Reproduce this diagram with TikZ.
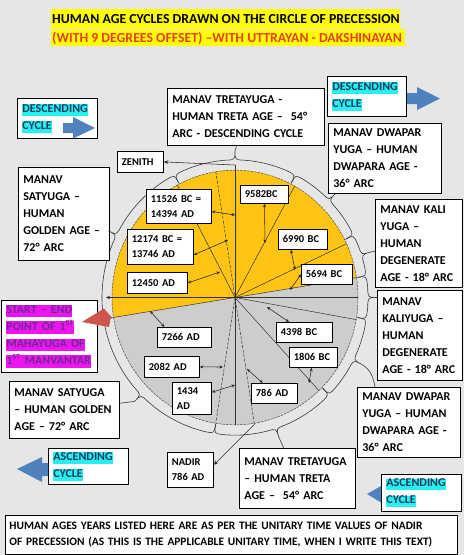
\documentclass[tikz,border=0pt]{standalone}
\usepackage{fontspec}
\setmainfont{Carlito}
\usetikzlibrary{arrows.meta}
\definecolor{bgc}{RGB}{230,230,230}
\definecolor{gold}{RGB}{255,196,20}
\definecolor{lowg}{RGB}{205,205,205}
\definecolor{hly}{RGB}{255,255,0}
\definecolor{titred}{RGB}{232,62,30}
\definecolor{hlcy}{RGB}{40,240,240}
\definecolor{cytext}{RGB}{25,60,95}
\definecolor{blarrow}{RGB}{79,129,189}
\definecolor{magh}{RGB}{240,20,240}
\definecolor{purt}{RGB}{112,40,150}
\definecolor{redarr}{RGB}{208,84,78}
\definecolor{brcol}{RGB}{55,55,70}
\setlength{\fboxsep}{0pt}
\newcommand{\hlc}[1]{\colorbox{hlcy}{\rule[-3.5pt]{0pt}{11.5pt}\textcolor{cytext}{#1}}}
\newcommand{\hlm}[1]{\colorbox{magh}{\rule[-3.5pt]{0pt}{11.5pt}#1}}
\newcommand{\ybrace}[3]{%
  \pgfmathsetmacro{\ybm}{(#1+#2)/2}%
  \pgfmathsetmacro{\ybA}{#1-4}%
  \pgfmathsetmacro{\ybB}{#2+4}%
  \pgfmathsetmacro{\ybMa}{\ybm+4}%
  \pgfmathsetmacro{\ybMb}{\ybm-4}%
  \draw[brc] (#1:124) .. controls (#1:133) .. (\ybA:133)
    arc[start angle=\ybA, end angle=\ybMa, radius=133]
    .. controls (\ybm:133) .. (\ybm:142) coordinate (#3)
    .. controls (\ybm:133) .. (\ybMb:133)
    arc[start angle=\ybMb, end angle=\ybB, radius=133]
    .. controls (#2:133) .. (#2:124);
}
\begin{document}
\begin{tikzpicture}[x=1pt,y=1pt,
  box/.style={draw=black, line width=0.8pt, fill=white, anchor=north west, align=left, inner xsep=5pt, inner ysep=0pt, font=\bfseries\fontsize{12}{17}\selectfont},
  dbox/.style={box, inner xsep=4.5pt, font=\bfseries\fontsize{10.5}{15}\selectfont},
  brc/.style={draw=brcol, line width=0.6pt},
  rad/.style={draw=black!80, line width=0.5pt},
  raddash/.style={rad, dash pattern=on 3pt off 1.5pt},
  darr/.style={{Stealth[length=3.5pt,width=3pt]}-{Stealth[length=3.5pt,width=3pt]}, line width=0.55pt, black!85},
  onearr/.style={-{Stealth[length=4.5pt,width=3.5pt]}, line width=0.55pt, black!85},
]
\useasboundingbox (0,0) rectangle (464,-555);
\fill[bgc] (0,0) rectangle (464,-555);
% title
\fill[hly] (50.5,-8.5) rectangle (399.5,-27.8);
\fill[hly] (50.5,-28.8) rectangle (405,-46);
\node[anchor=base west, inner sep=0pt, font=\bfseries\fontsize{13.8}{16}\selectfont] (t1) at (52,-23.3) {HUMAN AGE CYCLES DRAWN ON THE CIRCLE OF PRECESSION};
\node[anchor=base west, inner sep=0pt, text=titred, font=\bfseries\fontsize{13.8}{16}\selectfont] (t2) at (52,-42.3) {(WITH 9 DEGREES OFFSET) –WITH UTTRAYAN - DAKSHINAYAN};

% circle
\begin{scope}[shift={(235,-297.5)}, yscale=1.035]
  \fill[lowg] (0,0) -- (9:123) arc[start angle=9, end angle=-171, radius=123] -- cycle;
  \fill[gold] (0,0) -- (9:123) arc[start angle=9, end angle=189, radius=123] -- cycle;
  \draw[draw=black!70, line width=0.5pt, dash pattern=on 2.5pt off 1pt] (0,0) circle[radius=123];
  \draw[rad] (9:123) -- (189:123);
  \draw[rad, {Stealth[length=4pt,width=3.5pt]}-] (180:129) -- (0:123);
  \draw[rad] (90:128) coordinate (ztop) -- (270:123);
  \draw[raddash] (99:123) -- (-81:124) coordinate (nbot);
  \draw[rad] (0,0) -- (118:123);
  \draw[rad] (0,0) -- (61:123);
  \draw[rad] (0,0) -- (25:123);
  \draw[rad] (0,0) -- (-10:123);
  \draw[rad] (0,0) -- (-47:123);
  \draw[raddash] (0,0) -- (-99:123);
  % braces
  \ybrace{189}{117}{cSatU}
  \ybrace{117}{63}{cTreU}
  \ybrace{63}{27}{cDwaU}
  \ybrace{27}{9}{cKalU}
  \ybrace{9}{-9}{cKalL}
  \ybrace{-9}{-45}{cDwaL}
  \ybrace{-45}{-99}{cTreL}
  \ybrace{-99}{-171}{cSatL}
\end{scope}

% big boxes
\node[box, text width=70pt, minimum height=40pt] (descL) at (17,-98) {\hlc{DESCENDING}\\\hlc{CYCLE}};
\node[box, text width=69pt, minimum height=40pt] (descR) at (327,-76) {\hlc{DESCENDING}\\\hlc{CYCLE}};
\node[box, text width=147pt, minimum height=57pt] (tretaTop) at (167,-88) {MANAV TRETAYUGA -\\HUMAN TRETA AGE –\ \ 54°\\ARC - DESCENDING CYCLE};
\node[box, text width=103pt, minimum height=70pt] (dwapTop) at (328,-123) {MANAV DWAPAR\\YUGA – HUMAN\\DWAPARA AGE -\\36° ARC};
\node[box, text width=77pt, minimum height=88pt] (kaliTop) at (375,-199) {MANAV KALI\\YUGA –\\HUMAN\\DEGENERATE\\AGE - 18° ARC};
\node[box, text width=75pt, minimum height=90pt] (kaliLow) at (377,-290) {MANAV\\KALIYUGA –\\HUMAN\\DEGENERATE\\AGE - 18° ARC};
\node[box, text width=93pt, minimum height=70pt] (dwapLow) at (357,-387) {MANAV DWAPAR\\YUGA – HUMAN\\DWAPARA AGE -\\36° ARC};
\node[box, text width=106pt, minimum height=60pt] (tretaLow) at (239,-448) {MANAV TRETAYUGA\\– HUMAN TRETA\\AGE –\ \ 54° ARC};
\node[box, text width=70pt, minimum height=37pt] (ascR) at (381,-474) {\hlc{ASCENDING}\\\hlc{CYCLE}};
\node[box, text width=70pt, minimum height=36pt] (ascL) at (48,-448) {\hlc{ASCENDING}\\\hlc{CYCLE}};
\node[box, text width=100pt, minimum height=57pt] (satLow) at (9,-381) {MANAV SATYUGA\\– HUMAN GOLDEN\\AGE – 72° ARC};
\node[box, text width=81pt, minimum height=93pt] (satUp) at (18,-167) {MANAV\\SATYUGA –\\HUMAN\\GOLDEN AGE –\\72° ARC};
\node[box, text width=86pt, minimum height=72pt, text=purt] (start) at (1,-300) {\hlm{START – END}\\\hlm{POINT OF 1\textsuperscript{ST}}\\\hlm{MAHAYUGA OF}\\\hlm{1\textsuperscript{ST} MANVANTAR}};
\node[box, inner xsep=4pt, text width=444pt, minimum height=39pt, font=\bfseries\fontsize{11.4}{16}\selectfont] (note) at (5,-515) {HUMAN AGES YEARS LISTED HERE ARE AS PER THE UNITARY TIME VALUES OF NADIR\\OF PRECESSION (AS THIS IS THE APPLICABLE UNITARY TIME, WHEN I WRITE THIS TEXT)};

% date boxes
\node[dbox, text width=37pt, minimum height=21pt] (zenith) at (117,-151) {ZENITH};
\node[dbox, text width=56pt, minimum height=34pt] (d11526) at (146,-189) {11526 BC =\\14394 AD};
\node[dbox, text width=39pt, minimum height=18pt] (d9582) at (240,-185) {9582BC};
\node[dbox, text width=57pt, minimum height=35pt] (d12174) at (127,-229) {12174 BC =\\13746 AD};
\node[dbox, text width=40pt, minimum height=20pt] (d6990) at (278,-229) {6990 BC};
\node[dbox, text width=42pt, minimum height=20pt] (d5694) at (301,-264) {5694 BC};
\node[dbox, text width=51pt, minimum height=21pt] (d12450) at (127,-272) {12450 AD};
\node[dbox, text width=45pt, minimum height=20pt] (d7266) at (157,-327) {7266 AD};
\node[dbox, text width=47pt, minimum height=20pt] (d4398) at (276,-322) {4398 BC};
\node[dbox, text width=39pt, minimum height=20pt] (d1806) at (289,-347) {1806 BC};
\node[dbox, text width=46pt, minimum height=21pt] (d2082) at (144,-356) {2082 AD};
\node[dbox, text width=30pt, minimum height=32pt] (d1434) at (172,-382) {1434\\AD};
\node[dbox, text width=37pt, minimum height=20pt] (d786) at (251,-383) {786 AD};
\node[dbox, text width=37pt, minimum height=35pt] (nadir) at (167,-452) {NADIR\\786 AD};

% brace tips to boxes
\draw[brc] (cSatU) -- (satUp);
\draw[brc] (cTreU) -- (tretaTop);
\draw[brc] (cDwaU) -- (dwapTop);
\draw[brc] (cKalU) -- (kaliTop);
\draw[brc] (cKalL) -- (kaliLow);
\draw[brc] (cDwaL) to[out=-30,in=100] ([xshift=18pt]dwapLow.north west);
\draw[brc] (cTreL) -- (tretaLow);
\draw[brc] (cSatL) -- (satLow);

% zenith / nadir arrows
\draw[onearr] (ztop) -- (zenith.east);
\draw[onearr] (nbot) -- ([yshift=5pt]nadir.east);

% date arrows
\coordinate (q11526) at (235,-215);
\coordinate (q9582) at (265,-243);
\coordinate (q12174) at (228,-240);
\coordinate (q6990) at (295,-270);
\coordinate (q5694) at (290,-290);
\coordinate (q12450) at (220,-272);
\coordinate (q7266) at (150,-311);
\coordinate (q4398) at (267,-307);
\coordinate (q1806) at (309,-383);
\coordinate (q2082) at (223,-367);
\coordinate (q1434) at (235,-385);
\coordinate (q786) at (247,-369);
\draw[darr] (d11526) -- (q11526);
\draw[darr] (d9582) -- (q9582);
\draw[darr] ([yshift=-8pt]d12174.east) -- (q12174);
\draw[darr] ([xshift=-12pt]d6990.south) -- (q6990);
\draw[darr] (d5694.west) -- (q5694);
\draw[darr] (d12450.east) -- (q12450);
\draw[darr] ([xshift=-20pt]d7266.north) -- (q7266);
\draw[darr] (d4398) -- (q4398);
\draw[darr] (d1806) -- (q1806);
\draw[darr] (d2082.east) -- (q2082);
\draw[darr] (d1434) -- (q1434);
\draw[darr] (d786) -- (q786);

% block arrows
\fill[blarrow] (63,-123) -- (73,-123) -- (73,-117) -- (95,-128) -- (73,-138.5) -- (73,-133) -- (63,-133) -- cycle;
\fill[blarrow] (407,-93) -- (417,-93) -- (417,-87) -- (440,-98.5) -- (417,-110) -- (417,-104) -- (407,-104) -- cycle;
\fill[blarrow] (48,-463) -- (42,-463) -- (42,-457) -- (17,-469) -- (42,-482) -- (42,-476) -- (48,-476) -- cycle;
\fill[blarrow] (381,-486) -- (367,-494) -- (381,-502.5) -- cycle;
\fill[redarr] (82,-322) -- (104,-308.5) -- (111,-316.5) -- (109,-327) -- cycle;
\end{tikzpicture}
\end{document}
